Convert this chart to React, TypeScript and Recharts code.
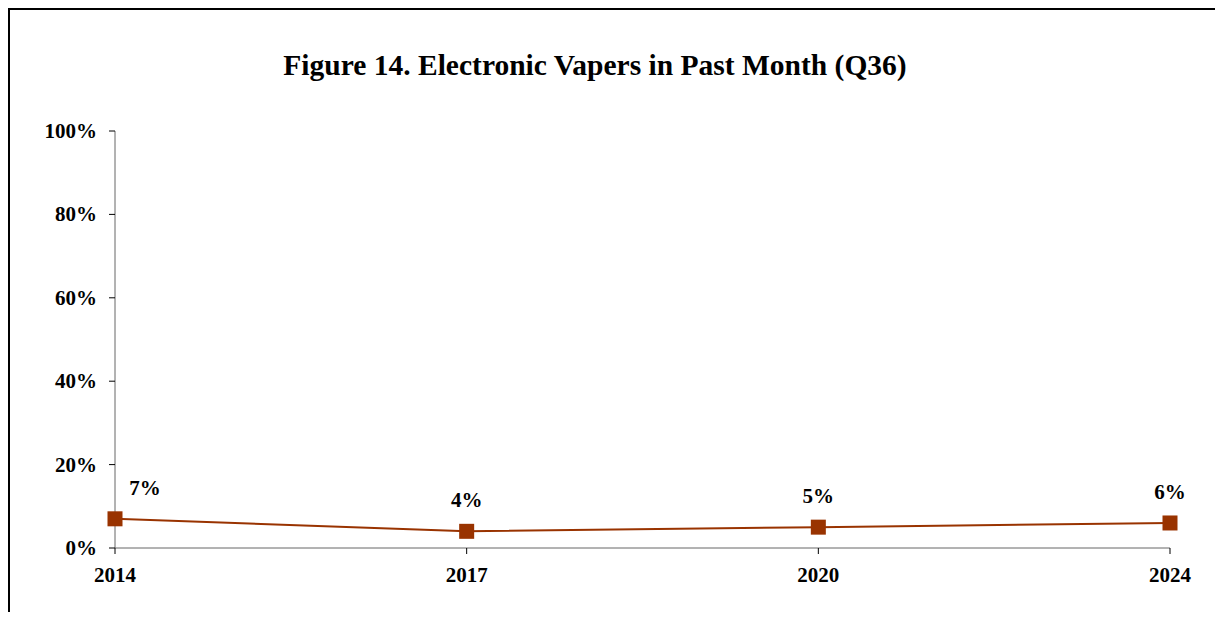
import React from "react";
import { LineChart, Line, XAxis, YAxis, LabelList } from "recharts";

// Survey years and share of students reporting electronic vaper use in the past month
const years = ["2014", "2017", "2020", "2024"];
const pastMonthPct = [7, 4, 5, 6];
const yTicks = [0, 20, 40, 60, 80, 100];

const data = years.map((year, i) => ({ year, value: pastMonthPct[i] }));

const FONT = "'Liberation Serif', 'Times New Roman', serif";
const SERIES = "#993300";
const AXIS = "#666666";

const SquareDot = (props: any) => {
  const { cx, cy } = props;
  if (cx == null || cy == null) return null;
  return <rect x={cx - 7.5} y={cy - 7.5} width={15} height={15} fill={SERIES} />;
};

const ValueLabel = (props: any) => {
  const { x, y, value, index } = props;
  const dx = index === 0 ? 30 : 0;
  return (
    <text
      x={x + dx}
      y={y - 24}
      textAnchor="middle"
      fontFamily={FONT}
      fontWeight="bold"
      fontSize={21}
      fill="#000"
    >
      {`${value}%`}
    </text>
  );
};

const XTick = (props: any) => {
  const { x, y, payload } = props;
  return (
    <text x={x} y={y + 26} textAnchor="middle" fontFamily={FONT} fontWeight="bold" fontSize={21} fill="#000">
      {payload.value}
    </text>
  );
};

const YTick = (props: any) => {
  const { x, y, payload } = props;
  return (
    <text x={x - 10} y={y + 7} textAnchor="end" fontFamily={FONT} fontWeight="bold" fontSize={21} fill="#000">
      {`${payload.value}%`}
    </text>
  );
};

export default function App() {
  return (
    <div
      style={{
        position: "relative",
        width: 1215,
        height: 612,
        marginBottom: -8,
        boxSizing: "border-box",
        borderTop: "2px solid #000",
        borderLeft: "2px solid #000",
        overflow: "hidden",
        background: "#fff",
      }}
    >
      <svg style={{ position: "absolute", left: 0, top: 0 }} width={1213} height={100}>
        <text x={585} y={65} textAnchor="middle" fontFamily={FONT} fontWeight="bold" fontSize={29.5} fill="#000">
          Figure 14. Electronic Vapers in Past Month (Q36)
        </text>
      </svg>
      <div style={{ position: "absolute", left: 0, top: 0 }}>
        <LineChart
          width={1200}
          height={600}
          data={data}
          margin={{ top: 121, right: 40, bottom: 32, left: 45 }}
        >
          <XAxis
            dataKey="year"
            height={30}
            stroke={AXIS}
            tickLine={{ stroke: "#000" }}
            tickSize={6}
            tick={<XTick />}
            interval={0}
          />
          <YAxis
            width={60}
            domain={[0, 100]}
            ticks={yTicks}
            stroke={AXIS}
            tickLine={{ stroke: "#000" }}
            tickSize={6}
            tick={<YTick />}
            interval={0}
          />
          <Line
            type="linear"
            dataKey="value"
            stroke={SERIES}
            strokeWidth={2}
            dot={<SquareDot />}
            activeDot={false}
            isAnimationActive={false}
          >
            <LabelList dataKey="value" content={<ValueLabel />} />
          </Line>
        </LineChart>
      </div>
    </div>
  );
}
